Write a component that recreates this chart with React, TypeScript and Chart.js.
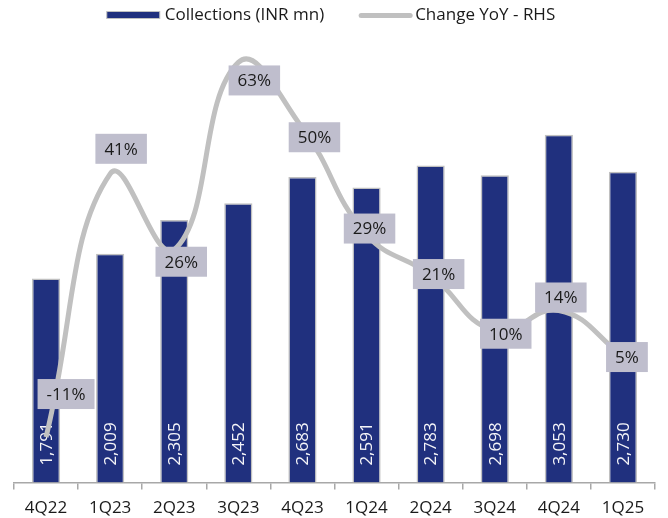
import React, { useEffect, useRef } from "react";
import { Chart, registerables } from "chart.js";

Chart.register(...registerables);

// ---- Data ----
const categories = ["4Q22", "1Q23", "2Q23", "3Q23", "4Q23", "1Q24", "2Q24", "3Q24", "4Q24", "1Q25"];
const collections = [1791, 2009, 2305, 2452, 2683, 2591, 2783, 2698, 3053, 2730];
const yoyChange = [-11, 41, 26, 63, 50, 29, 21, 10, 14, 5];
const leftAxisRange = [0, 4000];
const rightAxisRange = [-20, 70];
const seriesNames = ["Collections (INR mn)", "Change YoY - RHS"];

// ---- Style (label nudges in px, mimicking the manual label placement) ----
const yoyLabelNudgeX = [20, 11, 7, 16, 12, 3, 8, 11, 2, 4];
const yoyLabelNudgeY = [-43, -25, 12, 18, 9, -6, -1, 3, -13, 1];

const FONT = '"Open Sans", "Noto Sans", sans-serif';
const NAVY = "#20307e";
const GREY_LINE = "#c0c0c0";
const LABEL_BOX = "#bfbecd";
const TEXT = "#1a1a1a";

const LINE_INDEX = 0;
const BAR_INDEX = 1;

const labelPlugin = {
  id: "valueLabels",
  afterDatasetDraw(chart: any, args: any) {
    if (args.index !== BAR_INDEX) return;
    const ctx = chart.ctx;
    const meta = chart.getDatasetMeta(BAR_INDEX);
    ctx.save();
    ctx.font = `17px ${FONT}`;
    ctx.fillStyle = "#f4f4f8";
    ctx.textAlign = "left";
    ctx.textBaseline = "middle";
    meta.data.forEach((bar: any, i: number) => {
      ctx.save();
      ctx.translate(bar.x, bar.base - 17);
      ctx.rotate(-Math.PI / 2);
      ctx.fillText(collections[i].toLocaleString("en-US"), 0, 1);
      ctx.restore();
    });
    ctx.restore();
  },
  afterDatasetsDraw(chart: any) {
    const ctx = chart.ctx;
    const meta = chart.getDatasetMeta(LINE_INDEX);
    ctx.save();
    ctx.font = `17px ${FONT}`;
    ctx.textAlign = "center";
    ctx.textBaseline = "middle";
    meta.data.forEach((pt: any, i: number) => {
      const txt = `${yoyChange[i]}%`;
      const w = ctx.measureText(txt).width + 18;
      const h = 30;
      const cx = pt.x + yoyLabelNudgeX[i];
      const cy = pt.y + yoyLabelNudgeY[i];
      ctx.fillStyle = LABEL_BOX;
      ctx.fillRect(cx - w / 2, cy - h / 2, w, h);
      ctx.fillStyle = TEXT;
      ctx.fillText(txt, cx, cy + 1);
    });
    ctx.restore();
  },
};

// Legend drawn as a plugin so spacing can match the original
const legendPlugin = {
  id: "customLegend",
  afterDraw(chart: any) {
    const ctx = chart.ctx;
    ctx.save();
    ctx.font = `17px ${FONT}`;
    ctx.textBaseline = "middle";
    ctx.textAlign = "left";
    const sw = 53;
    const gapText = 5;
    const gapItems = 35;
    const w1 = ctx.measureText(seriesNames[0]).width;
    const w2 = ctx.measureText(seriesNames[1]).width;
    const total = sw + gapText + w1 + gapItems + sw + 3 + w2;
    let x = chart.width / 2 - 3 - total / 2;
    const cy = 15;
    // bar swatch
    ctx.fillStyle = NAVY;
    ctx.fillRect(x, cy - 3.5, sw, 7);
    ctx.strokeStyle = GREY_LINE;
    ctx.lineWidth = 1;
    ctx.strokeRect(x, cy - 3.5, sw, 7);
    x += sw + gapText;
    ctx.fillStyle = TEXT;
    ctx.fillText(seriesNames[0], x, cy);
    x += w1 + gapItems;
    // line swatch
    ctx.strokeStyle = GREY_LINE;
    ctx.lineWidth = 5;
    ctx.lineCap = "round";
    ctx.beginPath();
    ctx.moveTo(x + 2, cy + 0.5);
    ctx.lineTo(x + sw - 2, cy + 0.5);
    ctx.stroke();
    x += sw + 3;
    ctx.fillStyle = TEXT;
    ctx.fillText(seriesNames[1], x, cy);
    ctx.restore();
  },
};

export default function App() {
  const canvasRef = useRef<HTMLCanvasElement | null>(null);

  useEffect(() => {
    document.body.style.margin = "0";
    const canvas = canvasRef.current;
    if (!canvas) return;
    const chart = new Chart(canvas, {
      type: "bar",
      data: {
        labels: categories,
        datasets: [
          {
            type: "line",
            label: seriesNames[1],
            data: yoyChange,
            yAxisID: "yRight",
            borderColor: GREY_LINE,
            backgroundColor: GREY_LINE,
            borderWidth: 5,
            pointRadius: 0,
            tension: 0.45,
            fill: false,
            clip: false,
          } as any,
          {
            type: "bar",
            label: seriesNames[0],
            data: collections,
            yAxisID: "yLeft",
            backgroundColor: NAVY,
            borderColor: GREY_LINE,
            borderWidth: 1.5,
            borderSkipped: "bottom",
            barPercentage: 0.44,
            categoryPercentage: 1,
          },
        ],
      },
      options: {
        responsive: false,
        animation: false,
        devicePixelRatio: 1,
        layout: { padding: { left: 14, right: 13, top: 27, bottom: -8 } },
        plugins: {
          tooltip: { enabled: false },
          legend: { display: false },
        },
        scales: {
          x: {
            offset: true,
            grid: {
              offset: true,
              display: true,
              drawOnChartArea: false,
              drawTicks: true,
              tickLength: 7,
              color: "#a8a8a8",
              lineWidth: 1.5,
            },
            border: { display: true, color: "#a8a8a8", width: 1.5 },
            ticks: { color: TEXT, font: { family: FONT, size: 17 }, padding: 8, maxRotation: 0 },
          },
          yLeft: {
            type: "linear",
            position: "left",
            display: false,
            min: leftAxisRange[0],
            max: leftAxisRange[1],
          },
          yRight: {
            type: "linear",
            position: "right",
            display: false,
            min: rightAxisRange[0],
            max: rightAxisRange[1],
            grid: { drawOnChartArea: false },
          },
        },
      },
      plugins: [labelPlugin, legendPlugin],
    });
    return () => chart.destroy();
  }, []);

  return (
    <div style={{ width: 668, height: 518 }}>
      <canvas ref={canvasRef} width={668} height={518} style={{ display: "block" }} />
    </div>
  );
}
